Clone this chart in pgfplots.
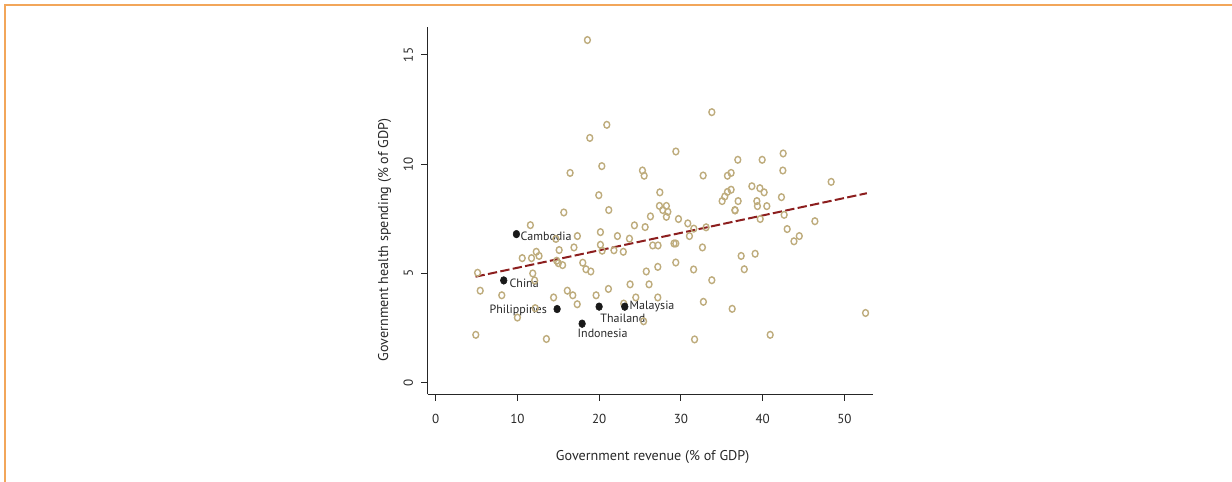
\documentclass[border=0pt]{standalone}
\usepackage{pgfplots}
\pgfplotsset{compat=1.18}
\usepackage{fontspec}
\setmainfont{PT Sans}
\definecolor{tan}{RGB}{190,172,125}
\definecolor{fitred}{RGB}{140,30,30}
\definecolor{frameor}{RGB}{242,166,90}
\definecolor{txt}{RGB}{40,40,40}
\begin{document}
\begin{tikzpicture}
\useasboundingbox (0,0) rectangle (924pt,361.5pt);
\draw[frameor, line width=1.5pt] (4.1pt,-1pt) -- (4.1pt,357.75pt) -- (925pt,357.75pt);
\begin{axis}[
  at={(320.8pt,65.8pt)}, anchor=south west,
  scale only axis, width=334pt, height=275.5pt,
  xmin=-0.98, xmax=53.51, ymin=-0.53, ymax=16.28,
  axis x line*=bottom, axis y line*=left,
  axis line style={line width=0.8pt, black!85, -},
  tick align=outside, tick style={line width=0.8pt, black!85},
  major tick length=5pt,
  xtick={0,10,20,30,40,50}, ytick={0,5,10,15},
  minor tick num=0,
  tick label style={font=\fontsize{9.8}{11}\selectfont, text=txt},
  /pgf/number format/assume math mode=true,
  xticklabel style={anchor=center, yshift=-13.5pt},
  yticklabel style={anchor=center, xshift=-9.5pt, rotate=90},
  label style={font=\fontsize{10.6}{12}\selectfont, text=txt},
  xlabel={Government revenue (\% of GDP)},
  ylabel={Government health spending (\% of GDP)},
  xlabel style={at={(axis description cs:0.505,-0.170)}, anchor=center},
  ylabel style={at={(axis description cs:-0.0967,0.42)}, anchor=center},
  clip=false,
]
\addplot[only marks, mark=o, mark size=2.2pt, mark options={tan, line width=1.05pt, yscale=1.15}] coordinates {
(18.56,15.68) (20.93,11.80) (18.85,11.20) (33.78,12.38) (20.32,9.91) (16.44,9.60)
(25.29,9.71) (25.50,9.47) (29.38,10.58) (36.96,10.20) (39.94,10.20) (42.51,10.49)
(42.47,9.71) (32.72,9.48) (35.69,9.47) (36.14,9.60) (48.38,9.19) (19.95,8.58)
(27.42,8.71) (38.68,8.99) (39.66,8.90) (40.18,8.71) (36.14,8.83) (35.69,8.73)
(35.37,8.52) (35.04,8.31) (37.00,8.31) (42.30,8.49) (39.29,8.31) (39.36,8.08)
(40.51,8.08) (36.60,7.90) (27.37,8.09) (28.22,8.09) (27.78,7.90) (28.40,7.82)
(28.22,7.59) (26.27,7.61) (29.70,7.49) (30.84,7.29) (39.70,7.49) (42.63,7.68)
(46.39,7.39) (31.58,7.05) (33.08,7.11) (43.00,7.03) (21.17,7.90) (15.67,7.79)
(11.58,7.21) (24.31,7.20) (25.62,7.12) (17.33,6.71) (20.15,6.89) (22.23,6.71)
(23.70,6.59) (14.70,6.58) (12.30,5.99) (12.64,5.80) (11.72,5.70) (10.58,5.70)
(15.10,6.07) (16.91,6.19) (20.15,6.31) (20.36,6.04) (21.80,6.06) (22.95,5.99)
(26.55,6.28) (27.20,6.28) (14.80,5.58) (15.00,5.47) (15.52,5.38) (17.99,5.49)
(18.38,5.19) (18.97,5.09) (5.12,5.03) (11.87,5.00) (25.76,5.09) (5.44,4.21)
(8.08,4.00) (12.10,4.68) (14.42,3.90) (16.10,4.21) (16.77,4.00) (17.31,3.59)
(19.62,4.00) (21.13,4.29) (23.78,4.50) (26.10,4.50) (24.48,3.90) (23.00,3.62)
(25.43,2.81) (12.17,3.41) (9.99,2.98) (4.90,2.19) (13.54,2.00) (29.15,6.37)
(29.37,6.37) (29.37,5.50) (31.04,6.71) (31.55,5.18) (32.63,6.19) (33.78,4.69)
(32.75,3.70) (31.67,1.98) (36.27,3.38) (37.37,5.80) (39.08,5.90) (37.75,5.19)
(40.92,2.19) (43.83,6.47) (44.48,6.71) (52.59,3.19) (27.17,5.30) (27.17,3.90)
(36.63,7.88)
};
\addplot[fitred, line width=1.5pt, dash pattern=on 7pt off 2.5pt] coordinates {(4.87,4.85) (52.75,8.67)};
\addplot[only marks, mark=*, mark size=2.5pt, mark options={fill=black!90, draw=black!90, yscale=1.15}] coordinates {
(9.87,6.80) (8.32,4.68) (14.85,3.37) (17.91,2.70) (19.99,3.48) (23.13,3.48)
};
\begin{scope}[every node/.style={font=\fontsize{9}{10}\selectfont, text=txt, inner sep=0pt}]
\node[anchor=west] at ([xshift=3pt,yshift=-2pt]axis cs:9.87,6.80) {Cambodia};
\node[anchor=west] at ([xshift=4.2pt,yshift=-1.8pt]axis cs:8.32,4.68) {China};
\node[anchor=east] at ([xshift=-7.5pt,yshift=-0.75pt]axis cs:14.85,3.37) {Philippines};
\node[anchor=west] at ([xshift=3.5pt]axis cs:23.13,3.48) {Malaysia};
\node[anchor=west] at ([xshift=0.75pt,yshift=-8.7pt]axis cs:19.99,3.48) {Thailand};
\node[anchor=west] at ([xshift=-3.5pt,yshift=-7.2pt]axis cs:17.91,2.70) {Indonesia};
\end{scope}
\end{axis}
\end{tikzpicture}
\end{document}
